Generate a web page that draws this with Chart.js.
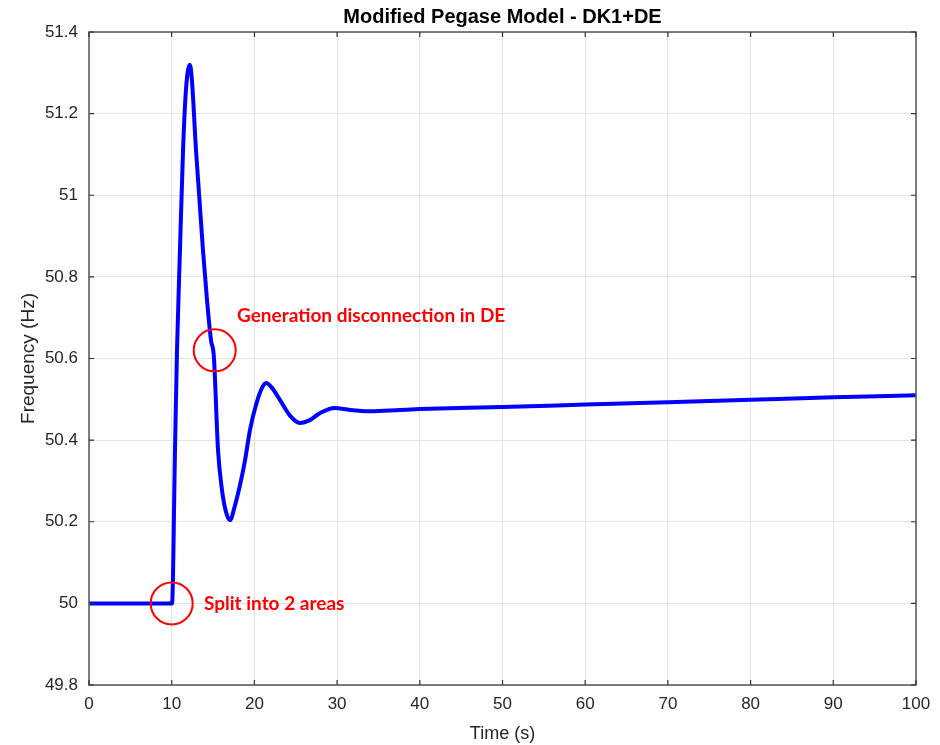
<!DOCTYPE html>
<html>
<head>
<meta charset="utf-8">
<script src="https://cdn.jsdelivr.net/npm/chart.js@4.4.1/dist/chart.umd.min.js"></script>
<style>
  html, body { margin: 0; padding: 0; background: #ffffff; }
  #wrap { width: 940px; height: 745px; position: relative; }
</style>
</head>
<body>
<div id="wrap"><canvas id="c" width="940" height="745"></canvas></div>
<script>
// ---- data ----
const timeS = [0, 5, 10, 10.04, 10.4, 10.64, 11.0, 11.37, 11.73, 12.2, 12.45, 12.94, 13.78, 14.27, 14.75, 15.1,
  15.6, 16.08, 16.57, 17.05, 17.65, 18.26, 18.86, 19.47, 20.19, 20.92, 21.4, 22.13, 23.1, 24.3, 25.5,
  26.7, 27.9, 29.7, 31.56, 34.0, 37.6, 40, 50, 60, 70, 80, 90, 100];
const freqHz = [50.0, 50.0, 50.0, 50.0, 50.376, 50.62, 50.866, 51.11, 51.26, 51.32, 51.28, 51.11, 50.866, 50.743, 50.645, 50.604,
  50.376, 50.278, 50.224, 50.204, 50.24, 50.29, 50.35, 50.425, 50.486, 50.528, 50.54, 50.528, 50.498, 50.46, 50.442,
  50.449, 50.466, 50.479, 50.474, 50.471, 50.474, 50.476, 50.481, 50.487, 50.493, 50.499, 50.505, 50.51];
const xTickValues = [0, 10, 20, 30, 40, 50, 60, 70, 80, 90, 100];
const yTickValues = [49.8, 50, 50.2, 50.4, 50.6, 50.8, 51, 51.2, 51.4];
const yTickLabels = ['49.8', '50', '50.2', '50.4', '50.6', '50.8', '51', '51.2', '51.4'];
const annotCircles = [[10, 50.0], [15.2, 50.62]];
const annotTexts = ['Split into 2 areas', 'Generation disconnection in DE'];
const annotTextPos = [[13.9, 50.0], [17.9, 50.704]];

const points = timeS.map((t, i) => ({ x: t, y: freqHz[i] }));

const boxPlugin = {
  id: 'boxAndTicks',
  afterDraw(chart) {
    const { ctx, chartArea: a, scales } = chart;
    const xs = scales.x, ys = scales.y;
    ctx.save();
    // annotations
    ctx.strokeStyle = '#ff0000';
    ctx.lineWidth = 2;
    annotCircles.forEach(([tx, ty]) => {
      ctx.beginPath();
      ctx.arc(xs.getPixelForValue(tx), ys.getPixelForValue(ty), 21, 0, Math.PI * 2);
      ctx.stroke();
    });
    ctx.fillStyle = '#ff0000';
    ctx.font = 'bold 19px Lato, "Open Sans", sans-serif';
    ctx.textBaseline = 'middle';
    ctx.textAlign = 'left';
    annotTexts.forEach((s, i) => {
      ctx.fillText(s, xs.getPixelForValue(annotTextPos[i][0]), ys.getPixelForValue(annotTextPos[i][1]));
    });
    // box
    ctx.strokeStyle = '#555555';
    ctx.lineWidth = 1.5;
    ctx.strokeRect(a.left, a.top, a.right - a.left, a.bottom - a.top);
    // inward ticks on all sides
    ctx.lineWidth = 1.2;
    ctx.strokeStyle = '#333333';
    const tl = 5;
    ctx.beginPath();
    xTickValues.forEach(v => {
      const px = xs.getPixelForValue(v);
      ctx.moveTo(px, a.bottom); ctx.lineTo(px, a.bottom - tl);
      ctx.moveTo(px, a.top); ctx.lineTo(px, a.top + tl);
    });
    yTickValues.forEach(v => {
      const py = ys.getPixelForValue(v);
      ctx.moveTo(a.left, py); ctx.lineTo(a.left + tl, py);
      ctx.moveTo(a.right, py); ctx.lineTo(a.right - tl, py);
    });
    ctx.stroke();
    ctx.restore();
  }
};

new Chart(document.getElementById('c'), {
  type: 'line',
  data: {
    datasets: [{
      data: points,
      borderColor: '#0000ff',
      borderWidth: 4,
      pointRadius: 0,
      fill: false,
      cubicInterpolationMode: 'monotone'
    }]
  },
  options: {
    responsive: false,
    animation: false,
    devicePixelRatio: 1,
    layout: { padding: { left: 0, right: 24, top: 0, bottom: 0 } },
    plugins: {
      legend: { display: false },
      tooltip: { enabled: false },
      title: {
        display: true,
        fullSize: false,
        text: 'Modified Pegase Model - DK1+DE',
        color: '#000000',
        font: { family: 'Arial, "Liberation Sans", sans-serif', size: 20, weight: 'bold', lineHeight: 1.2 },
        padding: { top: 5, bottom: 3 }
      }
    },
    scales: {
      x: {
        type: 'linear',
        min: 0, max: 100,
        afterBuildTicks: s => { s.ticks = xTickValues.map(v => ({ value: v })); },
        afterFit: s => { s.height = 60; },
        grid: { color: '#e3e3e3', lineWidth: 1, drawTicks: false },
        border: { display: false },
        ticks: {
          color: '#262626', padding: 9, maxRotation: 0,
          font: { family: 'Arial, "Liberation Sans", sans-serif', size: 17 },
          callback: v => String(v)
        },
        title: {
          display: true, text: 'Time (s)', color: '#262626',
          font: { family: 'Arial, "Liberation Sans", sans-serif', size: 18, lineHeight: 1.2 },
          padding: { top: 1, bottom: 0 }
        }
      },
      y: {
        type: 'linear',
        min: 49.8, max: 51.4,
        afterBuildTicks: s => { s.ticks = yTickValues.map(v => ({ value: v })); },
        afterFit: s => { s.width = 89; },
        grid: { color: '#e3e3e3', lineWidth: 1, drawTicks: false },
        border: { display: false },
        ticks: {
          color: '#262626', padding: 11,
          font: { family: 'Arial, "Liberation Sans", sans-serif', size: 17 },
          callback: (v, i) => yTickLabels[i]
        },
        title: {
          display: true, text: 'Frequency (Hz)', color: '#262626',
          font: { family: 'Arial, "Liberation Sans", sans-serif', size: 19, lineHeight: 1.2 },
          padding: { top: 17, bottom: 0 }
        }
      }
    }
  },
  plugins: [boxPlugin]
});
</script>
</body>
</html>
